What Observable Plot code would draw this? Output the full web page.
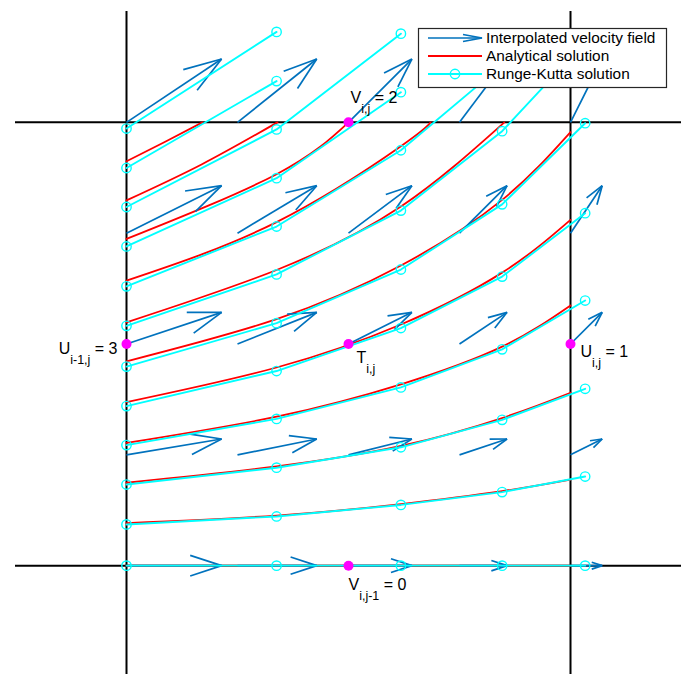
<!DOCTYPE html>
<html><head><meta charset="utf-8">
<script src="https://cdn.jsdelivr.net/npm/d3@7"></script>
<script src="https://cdn.jsdelivr.net/npm/@observablehq/plot@0.6"></script>
<style>
html,body{margin:0;padding:0;background:#fff;overflow:hidden}
#chart svg{display:block}
</style></head><body><div id="chart"></div>
<script>
// cell faces
const faceX = [0, 1];
const faceY = [0, 1];

// interpolated velocity field (quiver grid)
const quiverX = [0, 0.25, 0.5, 0.75, 1];
const quiverY = [0, 0.25, 0.5, 0.75, 1];
const quiverU = [3, 2.5, 2, 1.5, 1];   // per column
const quiverV = [0, 0.5, 1, 1.5, 2];   // per row

// Runge-Kutta solution: marker columns and y values per trajectory
const rkX = [0, 0.338, 0.618, 0.846, 1.033];
const rkY = [
  [0.986, 1.204],
  [0.897, 1.093],
  [0.809, 0.984, 1.200],
  [0.720, 0.874, 1.068],
  [0.630, 0.765, 0.937, 1.129],
  [0.541, 0.657, 0.801, 0.980, 1.181],
  [0.449, 0.547, 0.668, 0.815, 0.998],
  [0.360, 0.439, 0.536, 0.652, 0.795],
  [0.272, 0.331, 0.402, 0.488, 0.598],
  [0.183, 0.221, 0.267, 0.329, 0.399],
  [0.093, 0.111, 0.137, 0.166, 0.201],
  [0, 0, 0, 0, 0]
];

// Analytical solution (sampled read points per trajectory)
const anaX = [
  [0, 0.085, 0.171],
  [0, 0.169, 0.340],
  [0, 0.338, 0.500],
  [0, 0.338, 0.618, 0.685],
  [0, 0.338, 0.618, 0.851],
  [0, 0.338, 0.618, 0.846, 1],
  [0, 0.338, 0.618, 0.846, 1],
  [0, 0.338, 0.618, 0.846, 1],
  [0, 0.338, 0.618, 0.846, 1],
  [0, 0.338, 0.618, 0.846, 1],
  [0, 1]
];
const anaY = [
  [0.912, 0.955, 1.0],
  [0.824, 0.905, 1.0],
  [0.737, 0.883, 1.0],
  [0.643, 0.775, 0.946, 1.0],
  [0.549, 0.667, 0.810, 1.0],
  [0.461, 0.556, 0.677, 0.825, 0.978],
  [0.369, 0.447, 0.544, 0.661, 0.780],
  [0.277, 0.336, 0.409, 0.494, 0.587],
  [0.187, 0.224, 0.270, 0.333, 0.390],
  [0.096, 0.113, 0.139, 0.168, 0.194],
  [0, 0]
];

// face / centre points and labels
const ptX = [0.5, 0, 0.5, 1, 0.5];
const ptY = [1, 0.5, 0.5, 0.5, 0];
const ptMain = ["V", "U", "T", "U", "V"];
const ptSub = ["i,j", "i-1,j", "i,j", "i,j", "i,j-1"];
const ptRest = [" = 2", " = 3", "", " = 1", " = 0"];

const legendLabels = ["Interpolated velocity field", "Analytical solution", "Runge-Kutta solution"];

// ---- build tables ----
const quiverScale = 0.0714, headA = 0.33, headB = 0.33;
const shafts = [], barbs = [];
quiverY.forEach((y, j) => quiverX.forEach((x, i) => {
  const U = quiverU[i] * quiverScale, V = quiverV[j] * quiverScale;
  const tx = x + U, ty = y + V;
  shafts.push({x1: x, y1: y, x2: tx, y2: ty});
  barbs.push({x1: tx - headA * (U + headB * V), y1: ty - headA * (V - headB * U), x2: tx, y2: ty});
  barbs.push({x1: tx - headA * (U - headB * V), y1: ty - headA * (V + headB * U), x2: tx, y2: ty});
}));
const rkPts = rkY.flatMap((ys, c) => ys.map((y, k) => ({c, x: rkX[k], y})));
const anaPts = anaY.flatMap((ys, c) => ys.map((y, k) => ({c, x: anaX[c][k], y})));
const pts = ptX.map((x, i) => ({x, y: ptY[i]}));

const labelLayout = [
  {anchor: "start", dx: 2, dy: -19},
  {anchor: "end", dx: -9, dy: 10},
  {anchor: "start", dx: 8, dy: 19},
  {anchor: "start", dx: 10, dy: 13},
  {anchor: "start", dx: 0, dy: 24}
];

const blue = "#0072BD", red = "#FF0000", cyan = "#00FFFF", magenta = "#FF00FF";
const font = "'Liberation Sans', Arial, Helvetica, sans-serif";

const plot = Plot.plot({
  width: 686, height: 676,
  marginLeft: 15, marginRight: 5, marginTop: 11, marginBottom: 0,
  x: {domain: [-0.25, 1.25], axis: null},
  y: {domain: [-0.25, 1.25], axis: null},
  style: {fontFamily: font, background: "white"},
  marks: [
    Plot.ruleX(faceX, {stroke: "black", strokeWidth: 2}),
    Plot.ruleY(faceY, {stroke: "black", strokeWidth: 2}),
    Plot.line(anaPts, {x: "x", y: "y", z: "c", stroke: red, strokeWidth: 1.8, curve: "natural"}),
    Plot.link(shafts, {x1: "x1", y1: "y1", x2: "x2", y2: "y2", stroke: blue, strokeWidth: 1.7}),
    Plot.link(barbs, {x1: "x1", y1: "y1", x2: "x2", y2: "y2", stroke: blue, strokeWidth: 1.7}),
    Plot.line(rkPts, {x: "x", y: "y", z: "c", stroke: cyan, strokeWidth: 1.9}),
    Plot.dot(rkPts, {x: "x", y: "y", r: 4.7, stroke: cyan, strokeWidth: 1.4, fill: "none"}),
    Plot.dot(pts, {x: "x", y: "y", r: 5, fill: magenta, stroke: "none"}),
    ...pts.map((p, i) => Plot.text([p], {
      x: "x", y: "y", text: () => ptMain[i] + ptSub[i] + ptRest[i],
      textAnchor: labelLayout[i].anchor, lineAnchor: "bottom",
      dx: labelLayout[i].dx, dy: labelLayout[i].dy,
      fontSize: 16, fill: "black"
    }))
  ]
});

const svg = d3.select(plot);
// rebuild labels with subscripts (text marks appear in order)
const textGroups = svg.selectAll('g[aria-label="text"]').nodes();
pts.forEach((p, i) => {
  const g = textGroups[i];
  if (!g) return;
  const t = d3.select(g).select("text");
  t.text(null);
  t.append("tspan").attr("font-size", 16).text(ptMain[i]);
  t.append("tspan").attr("dy", 10).attr("font-size", 12.5).text(ptSub[i]);
  if (ptRest[i]) t.append("tspan").attr("dy", -10).attr("font-size", 16).text(ptRest[i]);
});

// legend
const lg = svg.append("g").attr("font-family", font).attr("font-size", 15.4).attr("text-anchor", "start");
lg.append("rect").attr("x", 418.5).attr("y", 28.5).attr("width", 248).attr("height", 59)
  .attr("fill", "white").attr("stroke", "#262626").attr("stroke-width", 1.2);
const rowY = [38, 56, 74];
lg.append("line").attr("x1", 428).attr("x2", 482).attr("y1", rowY[0]).attr("y2", rowY[0]).attr("stroke", blue).attr("stroke-width", 1.7);
lg.append("path").attr("d", `M463,${rowY[0]-3.5}L482,${rowY[0]}L463,${rowY[0]+3.5}`).attr("fill", "none").attr("stroke", blue).attr("stroke-width", 1.7);
lg.append("line").attr("x1", 428).attr("x2", 482).attr("y1", rowY[1]).attr("y2", rowY[1]).attr("stroke", red).attr("stroke-width", 1.8);
lg.append("line").attr("x1", 428).attr("x2", 482).attr("y1", rowY[2]).attr("y2", rowY[2]).attr("stroke", cyan).attr("stroke-width", 1.8);
lg.append("circle").attr("cx", 455).attr("cy", rowY[2]).attr("r", 4.7).attr("fill", "none").attr("stroke", cyan).attr("stroke-width", 1.4);
legendLabels.forEach((s, i) => lg.append("text").attr("x", 486).attr("y", rowY[i] + 5)
  .attr("text-anchor", "start").attr("font-size", 15.4).attr("fill", "black").text(s));

document.getElementById("chart").appendChild(plot);
</script></body></html>
